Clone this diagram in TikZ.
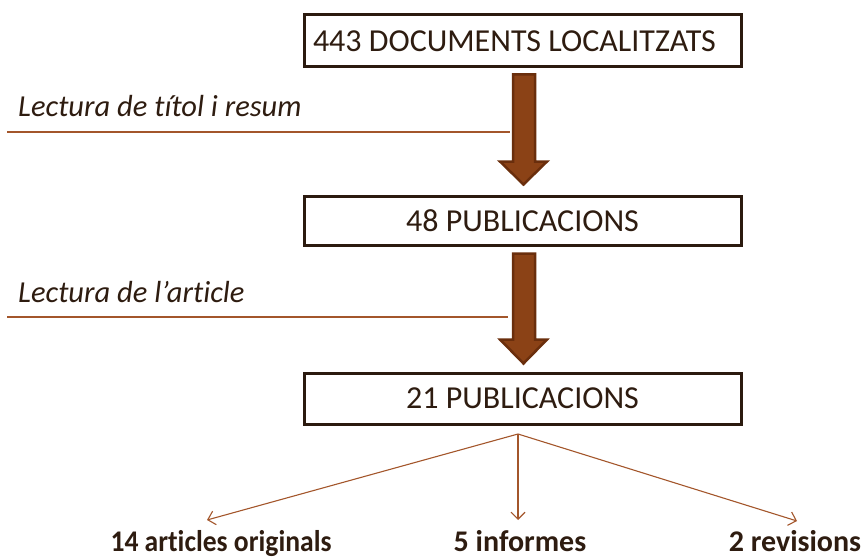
\documentclass[tikz,border=0pt]{standalone}
\usepackage{fontspec}
\setmainfont{Carlito}[Ligatures=NoCommon]
\usetikzlibrary{arrows.meta,calc}
\definecolor{txt}{HTML}{2E1C10}
\definecolor{boxline}{HTML}{2B1A0F}
\definecolor{afill}{HTML}{8B4216}
\definecolor{aline}{HTML}{6A2E0C}
\definecolor{thin}{HTML}{A3562B}
\tikzset{
  stagebox/.style={draw=boxline,line width=3pt,fill=white,minimum width=437pt,text=txt,font=\fontsize{32}{36}\selectfont,inner sep=0pt},
  fatarrow/.style={fill=afill,draw=aline,line width=2.5pt,line join=miter},
  sepline/.style={draw=thin,line width=1.3pt},
  steplabel/.style={text=txt,font=\fontsize{30.5}{34}\selectfont\itshape,anchor=base west,inner sep=0pt},
  fanarrow/.style={draw=thin,line width=1.1pt,-{Straight Barb[length=7pt,width=14pt,line width=1.1pt]}},
  outlabel/.style={text=txt,font=\fontsize{30}{34}\selectfont\bfseries,anchor=base,inner sep=0pt}
}
\begin{document}
\begin{tikzpicture}[x=1pt,y=-1pt]
\useasboundingbox (0,0) rectangle (867,559);
\node[stagebox,minimum height=52pt] (b1) at (522.5,41) {\hspace*{-16pt}443 DOCUMENTS LOCALITZATS};
\node[stagebox,minimum height=49pt] (b2) at (522.5,220.5) {48 PUBLICACIONS};
\node[stagebox,minimum height=51pt] (b3) at (522.5,398.5) {21 PUBLICACIONS};
% fat arrows between boxes
\draw[fatarrow] ($(b1.south)+(-9.5,6)$) -- ($(b1.south)+(12.5,6)$) -- ($(b1.south)+(12.5,93)$)
  -- ($(b1.south)+(24.5,93)$) -- ($(b1.south)+(1,116)$) -- ($(b1.south)+(-22.5,93)$)
  -- ($(b1.south)+(-9.5,93)$) -- cycle;
\draw[fatarrow] ($(b2.south)+(-9.5,7)$) -- ($(b2.south)+(12.5,7)$) -- ($(b2.south)+(12.5,93)$)
  -- ($(b2.south)+(24.5,93)$) -- ($(b2.south)+(1,117)$) -- ($(b2.south)+(-22.5,93)$)
  -- ($(b2.south)+(-9.5,93)$) -- cycle;
% step labels and lines
\coordinate (l1a) at (7,132);
\coordinate (l1b) at (510,132);
\draw[sepline] (l1a) -- (l1b);
\node[steplabel] (t1) at (18,117) {Lectura de títol i resum};
\coordinate (l2a) at (7,317);
\coordinate (l2b) at (508,317);
\draw[sepline] (l2a) -- (l2b);
\node[steplabel] (t2) at (18,302) {Lectura de l’article};
% fan out
\coordinate (fan) at (518,434);
\node[outlabel] (o1) at (221,551) {\scalebox{0.92}[1]{14 articles originals}};
\node[outlabel] (o2) at (520,551) {5 informes};
\node[outlabel] (o3) at (795,551) {2 revisions};
\coordinate (e1) at (207,520);
\coordinate (e2) at (518,520);
\coordinate (e3) at (797,521);
\draw[fanarrow] (fan) -- (e1);
\draw[fanarrow] (fan) -- (e2);
\draw[fanarrow] (fan) -- (e3);
\end{tikzpicture}
\end{document}
